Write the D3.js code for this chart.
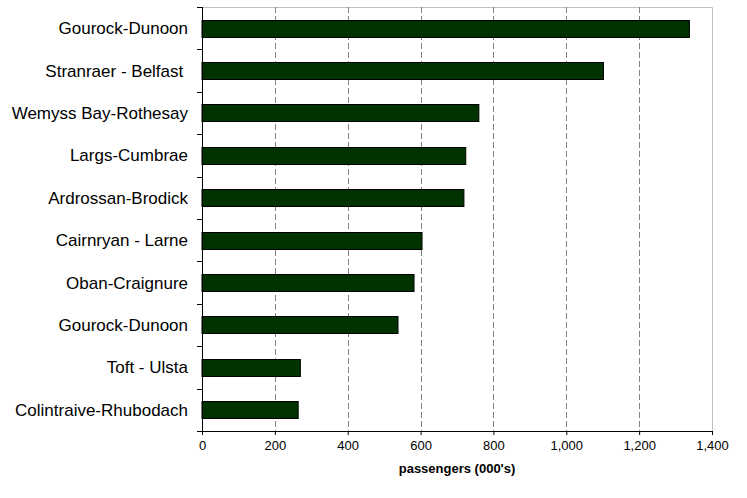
<!DOCTYPE html>
<html><head><meta charset="utf-8">
<script src="https://cdn.jsdelivr.net/npm/d3@7"></script>
<style>body{margin:0;background:#fff}svg{display:block}</style>
</head><body>
<script>
const routes = ["Gourock-Dunoon","Stranraer - Belfast ","Wemyss Bay-Rothesay","Largs-Cumbrae","Ardrossan-Brodick","Cairnryan - Larne","Oban-Craignure","Gourock-Dunoon","Toft - Ulsta","Colintraive-Rhubodach"];
const passengers = [1338,1102,760,724,719,604,582,538,270,264];
const xTicks = [0,200,400,600,800,1000,1200,1400];
const xTitle = "passengers (000's)";

const W = 747, H = 498;
const m = {left:202, top:7, right:35, bottom:67};
const iw = W - m.left - m.right, ih = H - m.top - m.bottom;

const svg = d3.select("body").append("svg").attr("width",W).attr("height",H);
const g = svg.append("g").attr("transform",`translate(${m.left},${m.top})`);

const idx = routes.map((d,i)=>i);
const x = d3.scaleLinear().domain([0,1400]).range([0,iw]);
const y = d3.scaleBand().domain(idx).range([0,ih]).paddingInner(0.59).paddingOuter(0.295);
const yTick = d3.scaleBand().domain(idx).range([0,ih]);

// frame top/right
g.append("path").attr("d",`M0,0.5H${iw+0.5}V${ih}`).attr("fill","none").attr("stroke","#c0c0c0").attr("stroke-width",1);

// grid
g.selectAll("line.grid").data(xTicks.slice(1,-1)).join("line")
  .attr("x1",d=>Math.round(x(d))+0.5).attr("x2",d=>Math.round(x(d))+0.5)
  .attr("y1",0).attr("y2",ih)
  .attr("stroke","#808080").attr("stroke-width",1).attr("stroke-dasharray","6,3");

// bars
g.selectAll("rect.bar").data(passengers).join("rect")
  .attr("x",x(0)).attr("y",(d,i)=>Math.round(y(i))+0.5)
  .attr("width",d=>x(d)).attr("height",Math.round(y.bandwidth()))
  .attr("fill","#003300").attr("stroke","#000").attr("stroke-width",1);

// left axis
const ly = g.append("g");
ly.append("line").attr("x1",0.5).attr("x2",0.5).attr("y1",0).attr("y2",ih).attr("stroke","#000");
ly.selectAll("line.t").data(d3.range(routes.length+1)).join("line")
  .attr("x1",-5).attr("x2",0.5)
  .attr("y1",d=>Math.round(d*yTick.step())+0.5).attr("y2",d=>Math.round(d*yTick.step())+0.5)
  .attr("stroke","#000");
ly.selectAll("text").data(routes).join("text")
  .attr("x",-14).attr("y",(d,i)=>yTick(i)+yTick.bandwidth()/2)
  .attr("dy","0.35em").attr("text-anchor","end")
  .attr("font-family","Liberation Sans, Arial, sans-serif").attr("font-size",17).attr("fill","#000")
  .style("white-space","pre").text(d=>d);

// bottom axis
const xa = g.append("g").attr("transform",`translate(0,${ih})`)
  .call(d3.axisBottom(x).tickValues(xTicks).tickSize(4).tickPadding(6).tickFormat(d3.format(",")));
xa.select(".domain").attr("stroke","#000").attr("d",`M0,0.5H${iw}`);
xa.selectAll(".tick line").attr("stroke","#000");
xa.selectAll("text").attr("font-family","Liberation Sans, Arial, sans-serif").attr("font-size",13).attr("fill","#000");

g.append("text").attr("x",iw/2).attr("y",ih+42).attr("text-anchor","middle")
  .attr("font-family","Liberation Sans, Arial, sans-serif").attr("font-size",13).attr("font-weight","bold")
  .text(xTitle);
</script>
</body></html>
